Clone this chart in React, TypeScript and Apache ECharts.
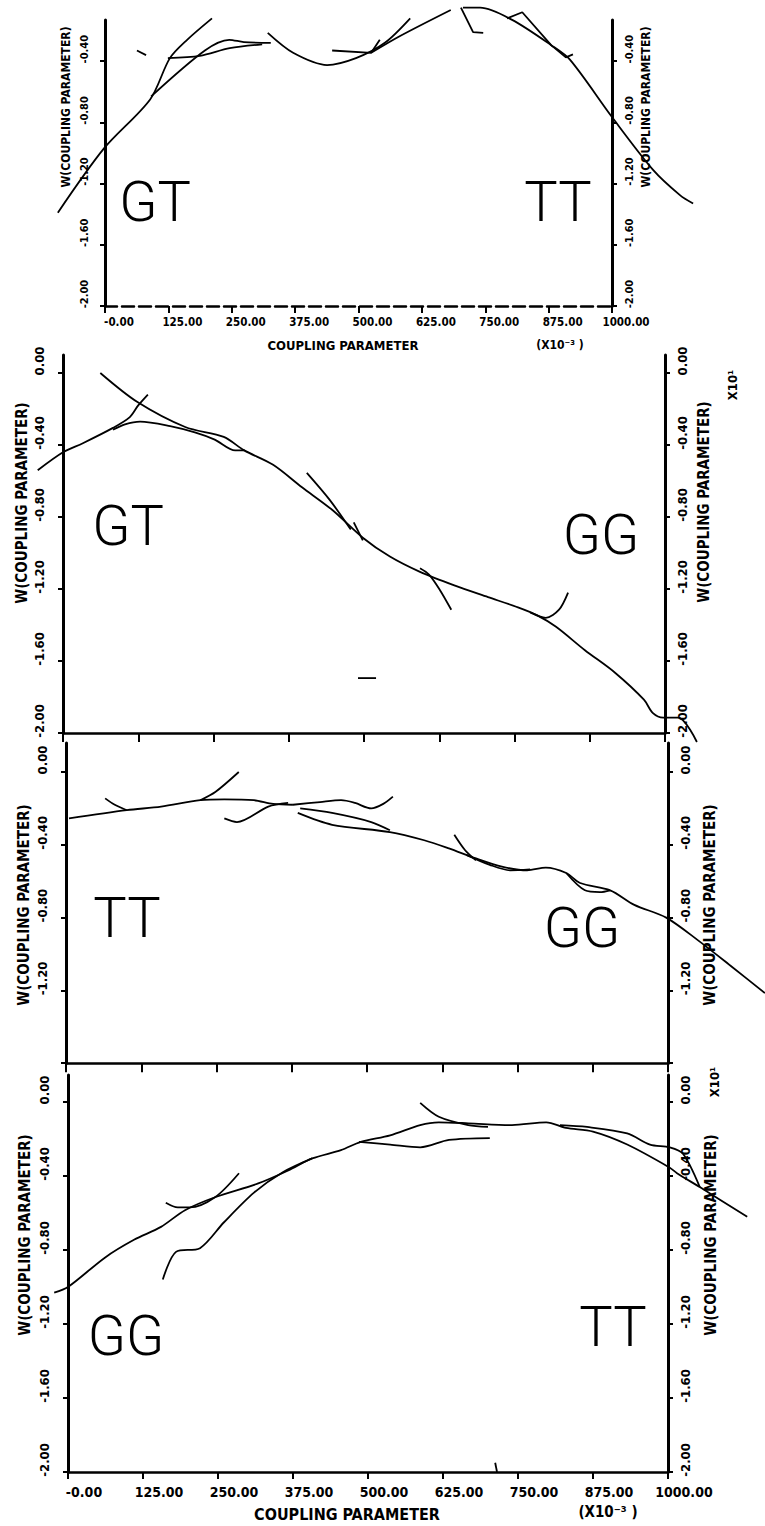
import React, { useEffect, useRef } from "react";
import * as echarts from "echarts";

// ---------- data (coupling parameter x10^-3, W(coupling parameter) x10^1) ----------
const X_MIN = 0;
const X_MAX = 1000;
const X_STEP = 125;
const Y_TICKS = [0, -0.4, -0.8, -1.2, -1.6, -2.0];

// panel 1: GT / TT
const p1A = [[-93, -1.39], [-2, -0.97], [89, -0.65], [128, -0.38], [162, -0.26], [211, -0.12]];
const p1B = [[91, -0.63], [197, -0.33], [245, -0.26], [274, -0.275], [327, -0.28]];
const p1S = [[63, -0.33], [81, -0.36]];
const p1C = [[124, -0.38], [187, -0.365], [246, -0.315], [310, -0.29]];
const p1D = [[321, -0.215], [371, -0.345], [438, -0.425], [495, -0.38], [552, -0.28], [602, -0.12]];
const p1E = [[448, -0.33], [525, -0.345], [542, -0.26]];
const p1F = [[525, -0.345], [582, -0.235], [682, -0.065]];
const p1G = [[702, -0.05], [726, -0.21], [746, -0.215]];
const p1H = [[706, -0.05], [740, -0.05], [803, -0.13], [880, -0.295], [917, -0.39], [1000, -0.765], [1081, -1.11], [1134, -1.275], [1160, -1.33]];
const p1I = [[793, -0.12], [823, -0.08], [880, -0.295], [909, -0.375], [923, -0.355]];

// panel 2: GT / GG
const p2P = [[62, 0], [123, -0.16], [203, -0.3], [267, -0.355], [301, -0.43], [349, -0.51], [397, -0.635], [447, -0.76], [498, -0.915], [543, -1.02], [593, -1.105], [650, -1.18], [706, -1.245], [754, -1.3], [787, -1.345], [819, -1.41], [867, -1.54], [917, -1.665], [965, -1.815], [980, -1.89], [997, -1.915], [1022, -1.915], [1053, -2.05]];
const p2Q = [[-42, -0.54], [0, -0.44], [33, -0.39], [83, -0.305], [111, -0.245], [125, -0.18], [141, -0.12]];
const p2R = [[83, -0.315], [103, -0.285], [128, -0.27], [178, -0.295], [219, -0.33], [252, -0.37], [286, -0.43], [302, -0.43]];
const p2S = [[405, -0.555], [443, -0.705], [478, -0.87]];
const p2S2 = [[483, -0.83], [498, -0.93]];
const p2T = [[593, -1.085], [608, -1.12], [626, -1.205], [645, -1.315]];
const p2V = [[776, -1.33], [802, -1.36], [824, -1.315], [839, -1.22]];
const p2Dash = [[490, -1.695], [520, -1.695]];

// panel 3: TT / GG
const p3A = [[5, -0.255], [101, -0.21], [158, -0.19], [223, -0.155], [263, -0.15], [312, -0.155], [344, -0.175], [377, -0.18]];
const p3B = [[65, -0.145], [81, -0.18], [101, -0.21]];
const p3C = [[223, -0.155], [248, -0.11], [287, 0]];
const p3D = [[263, -0.255], [284, -0.275], [336, -0.19], [369, -0.17]];
const p3E = [[377, -0.18], [422, -0.165], [457, -0.155], [480, -0.17], [507, -0.2], [527, -0.175], [543, -0.135]];
const p3F = [[385, -0.225], [442, -0.29], [538, -0.33], [595, -0.375], [636, -0.42], [681, -0.475], [724, -0.52], [766, -0.54], [797, -0.525], [831, -0.555], [854, -0.61], [904, -0.65], [944, -0.73], [997, -0.8], [1050, -0.925], [1106, -1.07], [1161, -1.215]];
const p3G = [[389, -0.2], [442, -0.225], [507, -0.275], [538, -0.32]];
const p3H = [[645, -0.345], [663, -0.43], [681, -0.485]];
const p3I = [[665, -0.455], [704, -0.51], [738, -0.54], [771, -0.535]];
const p3J = [[831, -0.555], [862, -0.65], [887, -0.66], [904, -0.65]];

// panel 4: GG / TT
const p4A = [[-23, -1.03], [0, -1.0], [62, -0.84], [110, -0.745], [155, -0.675], [195, -0.585], [245, -0.515], [317, -0.44], [367, -0.37], [407, -0.305], [455, -0.26], [488, -0.215], [537, -0.18], [587, -0.125], [618, -0.11], [667, -0.115], [740, -0.125], [797, -0.11], [830, -0.14], [875, -0.16], [932, -0.23], [1003, -0.355], [1015, -0.385], [1053, -0.46], [1132, -0.62]];
const p4B = [[163, -0.545], [183, -0.57], [203, -0.57], [245, -0.515], [285, -0.385]];
const p4C = [[158, -0.96], [180, -0.81], [220, -0.79], [260, -0.65], [310, -0.49], [358, -0.38], [407, -0.305]];
const p4D = [[485, -0.215], [537, -0.23], [587, -0.245], [635, -0.205], [703, -0.195]];
const p4E = [[587, -0.005], [618, -0.08], [667, -0.125], [700, -0.135]];
const p4F = [[820, -0.125], [865, -0.135], [932, -0.17], [970, -0.23], [1003, -0.245], [1025, -0.28], [1053, -0.46]];
const p4Tick = [[712, -1.95], [715, -2.0]];

const PANEL_CURVES = [
  [p1A, p1B, p1S, p1C, p1D, p1E, p1F, p1G, p1H, p1I],
  [p2P, p2Q, p2R, p2S, p2S2, p2T, p2V, p2Dash],
  [p3A, p3B, p3C, p3D, p3E, p3F, p3G, p3H, p3I, p3J],
  [p4A, p4B, p4C, p4D, p4E, p4F, p4Tick],
];
const SHARP = [p1G, p1I, p1E, p2Dash, p4Tick, p2S2];

// ---------- layout ----------
const PANELS = [
  { x0: 105, x1: 612, yZero: 0, ppu: 153, yTop: 20, yMin: -2, xLabels: true, fs: 11.5, yfs: 11, dashed: true, labelVals: [-0.4, -0.8, -1.2, -1.6, -2.0], padT: 15 },
  { x0: 63, x1: 665, yZero: 373, ppu: 180, yTop: 355, yMin: -2, xLabels: false, fs: 14, yfs: 13, dashed: false, labelVals: Y_TICKS, padT: 30 },
  { x0: 66, x1: 668, yZero: 772, ppu: 182, yTop: 743, yMin: -1.6, xLabels: false, fs: 14, yfs: 13, dashed: false, labelVals: [0, -0.4, -0.8, -1.2], padT: 30 },
  { x0: 68, x1: 668, yZero: 1102, ppu: 185, yTop: 1075, yMin: -2, xLabels: true, fs: 14, yfs: 13, dashed: false, labelVals: Y_TICKS, padT: 30 },
];
const PAD_L = 70;
const PAD_R = 110;
const PAD_B = 30;

const AXIS_FONT = '"DejaVu Sans Condensed", "DejaVu Sans", sans-serif';
const BIG_FONT = 'Roboto, "DejaVu Sans Condensed", sans-serif';

function vText(text: string, x: number, y: number, size: number) {
  return {
    type: "text",
    x,
    y,
    rotation: Math.PI / 2,
    silent: true,
    style: {
      text,
      x: 0,
      y: 0,
      fill: "#000",
      fontSize: size,
      fontFamily: AXIS_FONT,
      fontWeight: "bold",
      align: "center",
      verticalAlign: "middle",
      textAlign: "center",
      textVerticalAlign: "middle",
    },
  };
}
function hText(text: string, x: number, y: number, size: number, font = AXIS_FONT, weight = "bold") {
  return {
    type: "text",
    x,
    y,
    silent: true,
    style: {
      text,
      x: 0,
      y: 0,
      fill: "#000",
      fontSize: size,
      fontFamily: font,
      fontWeight: weight,
      align: "center",
      verticalAlign: "middle",
      textAlign: "center",
      textVerticalAlign: "middle",
    },
  };
}

function buildOption() {
  const grid: any[] = [];
  const xAxis: any[] = [];
  const yAxis: any[] = [];
  const series: any[] = [];
  const n = PANELS.length;

  // visible frames
  PANELS.forEach((p, i) => {
    const bottom = p.yZero - p.yMin * p.ppu;
    const yMax = (p.yZero - p.yTop) / p.ppu;
    grid.push({ left: p.x0, top: p.yTop, width: p.x1 - p.x0, height: bottom - p.yTop, containLabel: false, outerBoundsMode: "none" });
    const lblStyle = { color: "#000", fontFamily: AXIS_FONT, fontWeight: "bold", fontSize: p.fs };
    xAxis.push({
      type: "value",
      gridIndex: i,
      min: X_MIN,
      max: X_MAX,
      interval: X_STEP,
      axisLine: { show: true, onZero: false, lineStyle: { color: "#000", width: 2.5, type: p.dashed ? [12, 5] : "solid" } },
      axisTick: { show: true, length: p.xLabels ? 7 : 9, lineStyle: { color: "#000", width: 2 } },
      axisLabel: {
        show: p.xLabels,
        margin: i === 0 ? 10 : 13,
        formatter: (v: number) => `{s| }{t|${v === 0 ? "-0.00" : v.toFixed(2)}}`,
        rich: { s: { width: i === 0 ? 28 : 32 }, t: lblStyle },
      },
      splitLine: { show: false },
    });
    const tickVals = Y_TICKS.filter((v) => v >= p.yMin - 1e-9 && v <= yMax);
    const yLbl = { color: "#000", fontFamily: AXIS_FONT, fontWeight: "bold", fontSize: p.yfs };
    ["left", "right"].forEach((pos) => {
      yAxis.push({
        type: "value",
        gridIndex: i,
        position: pos,
        min: p.yMin,
        max: yMax,
        axisLine: { show: true, onZero: false, lineStyle: { color: "#000", width: 3 } },
        axisTick: { show: true, length: 5, customValues: tickVals, lineStyle: { color: "#000", width: 2 } },
        axisLabel: {
          show: true,
          customValues: p.labelVals,
          rotate: 90,
          margin: pos === "left" ? (i === 0 ? 15 : 17) : 11,
          formatter: (v: number) => `{s| }{t|${Math.abs(v) < 1e-9 ? "0.00" : v.toFixed(2)}}`,
          rich: { s: { width: 24 }, t: yLbl },
        },
        splitLine: { show: false },
      });
    });
  });

  // plotting areas (same scale, wider extent so curves can run past the frame)
  PANELS.forEach((p, i) => {
    const ppuX = (p.x1 - p.x0) / (X_MAX - X_MIN);
    const yMax = (p.yZero - p.yTop) / p.ppu;
    const bottom = p.yZero - p.yMin * p.ppu;
    grid.push({
      left: p.x0 - PAD_L,
      top: p.yTop - p.padT,
      width: p.x1 - p.x0 + PAD_L + PAD_R,
      height: bottom - p.yTop + p.padT + PAD_B,
      containLabel: false,
      outerBoundsMode: "none",
    });
    xAxis.push({
      type: "value",
      gridIndex: n + i,
      show: false,
      min: X_MIN - PAD_L / ppuX,
      max: X_MAX + PAD_R / ppuX,
      splitLine: { show: false },
    });
    yAxis.push({
      type: "value",
      gridIndex: n + i,
      show: false,
      min: p.yMin - PAD_B / p.ppu,
      max: yMax + p.padT / p.ppu,
      splitLine: { show: false },
    });
    PANEL_CURVES[i].forEach((curve) => {
      series.push({
        type: "line",
        xAxisIndex: n + i,
        yAxisIndex: 2 * n + i,
        data: curve,
        showSymbol: false,
        symbol: "none",
        clip: false,
        silent: true,
        smooth: SHARP.includes(curve) ? false : 0.3,
        lineStyle: { color: "#000", width: 1.8 },
      });
    });
  });

  const graphic: any[] = [
    vText("W(COUPLING PARAMETER)", 66, 107, 12),
    vText("W(COUPLING PARAMETER)", 646, 107, 12),
    vText("W(COUPLING PARAMETER)", 22, 503, 15),
    vText("W(COUPLING PARAMETER)", 704, 502, 15),
    vText("W(COUPLING PARAMETER)", 24, 905, 15),
    vText("W(COUPLING PARAMETER)", 710, 905, 15),
    vText("W(COUPLING PARAMETER)", 25, 1235, 15),
    vText("W(COUPLING PARAMETER)", 711, 1235, 15),
    vText("X10¹", 732, 385, 13),
    vText("X10¹", 714, 1082, 13),
    hText("COUPLING PARAMETER", 343, 345, 13),
    hText("(X10⁻³ )", 560, 345, 12),
    hText("COUPLING PARAMETER", 347, 1514, 16),
    hText("(X10⁻³ )", 608, 1512, 15),
    hText("GT", 155, 202, 56, BIG_FONT, "300"),
    hText("TT", 558, 202, 56, BIG_FONT, "300"),
    hText("GT", 128, 526, 56, BIG_FONT, "300"),
    hText("GG", 601, 535, 56, BIG_FONT, "300"),
    hText("TT", 127, 918, 56, BIG_FONT, "300"),
    hText("GG", 582, 928, 56, BIG_FONT, "300"),
    hText("GG", 126, 1336, 56, BIG_FONT, "300"),
    hText("TT", 613, 1327, 56, BIG_FONT, "300"),
  ];

  return {
    animation: false,
    backgroundColor: "#fff",
    grid,
    xAxis,
    yAxis,
    series,
    graphic,
  };
}

export default function App() {
  const ref = useRef<HTMLDivElement>(null);
  useEffect(() => {
    if (!ref.current) return;
    const chart = echarts.init(ref.current, null, { renderer: "svg" });
    chart.setOption(buildOption() as any);
    return () => chart.dispose();
  }, []);
  return (
    <div
      ref={ref}
      style={{ position: "absolute", left: 0, top: 0, width: 765, height: 1526, background: "#fff" }}
    />
  );
}
